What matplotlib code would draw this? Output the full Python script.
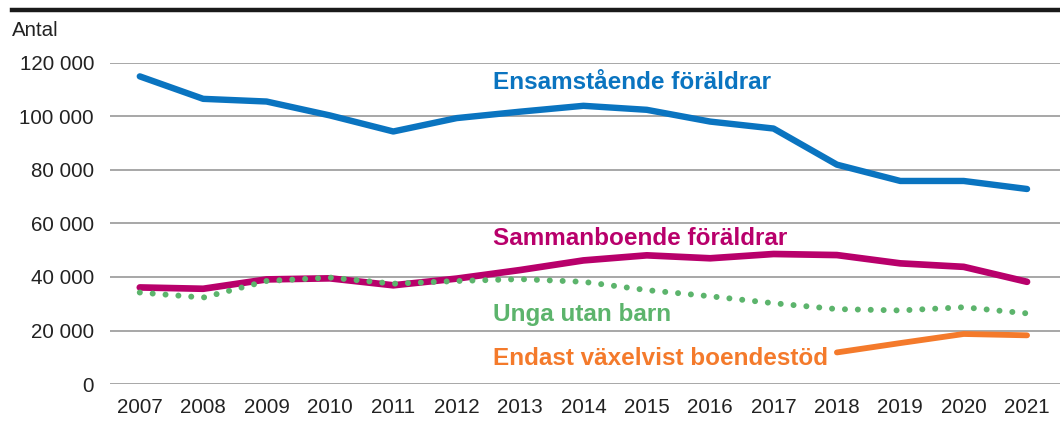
import matplotlib
matplotlib.use("Agg")
import matplotlib.pyplot as plt
from matplotlib.lines import Line2D

plt.rcParams['font.family'] = ['Liberation Sans', 'DejaVu Sans']

years = list(range(2007, 2022))
ensamstaende = [115000, 106600, 105600, 100400, 94400, 99400, 101800, 104000, 102500,
                98100, 95500, 82000, 75900, 75900, 72900]
sammanboende = [36100, 35600, 39100, 39500, 36900, 39400, 42600, 46200, 48100,
                47000, 48600, 48200, 45100, 43800, 38200]
unga = [34200, 32300, 38500, 39800, 37500, 38500, 39200, 38200, 35100,
        32800, 30200, 28000, 27500, 28700, 26400]
vaxel_years = [2018, 2019, 2020, 2021]
vaxelvist = [11800, 15300, 18700, 18200]

yticks = [0, 20000, 40000, 60000, 80000, 100000, 120000]
ytick_labels = ['0', '20 000', '40 000', '60 000', '80 000', '100 000', '120 000']

c_blue = '#0a74c0'
c_mag = '#b8006b'
c_green = '#5cb46c'
c_orange = '#f47a2b'

fig = plt.figure(figsize=(10.6, 4.21), dpi=100)
ax = fig.add_axes([110/1060, 37/421, 950/1060, 321/421])

for y in yticks:
    ax.axhline(y, color='#a0a0a0', lw=1.3, zorder=1)

ax.plot(years, ensamstaende, color=c_blue, lw=4.6, solid_capstyle='round',
        solid_joinstyle='round', clip_on=False, zorder=3)
ax.plot(years, unga, color=c_green, lw=4.3, linestyle=(0, (0.01, 2.15)),
        dash_capstyle='round', clip_on=False, zorder=4)
ax.plot(years, sammanboende, color=c_mag, lw=4.8, solid_capstyle='round',
        solid_joinstyle='round', clip_on=False, zorder=3)
ax.plot(vaxel_years, vaxelvist, color=c_orange, lw=4.2, solid_capstyle='round',
        solid_joinstyle='round', clip_on=False, zorder=3)

ax.set_xlim(2006.53, 2021.52)
ax.set_ylim(0, 120000)
ax.set_yticks(yticks)
ax.set_yticklabels(ytick_labels)
ax.set_xticks(years)
ax.set_xticklabels([str(y) for y in years])
ax.tick_params(length=0, colors='#222222', labelsize=14.8)
ax.tick_params(axis='y', pad=11.5)
ax.tick_params(axis='x', pad=10)
for s in ax.spines.values():
    s.set_visible(False)

lab = dict(fontsize=17.5, fontweight='bold', va='baseline', ha='left')
ax.text(2012.57, 110200, 'Ensamstående föräldrar', color=c_blue, **lab)
ax.text(2012.57, 52000, 'Sammanboende föräldrar', color=c_mag, **lab)
ax.text(2012.57, 23700, 'Unga utan barn', color=c_green, **lab)
ax.text(2012.57, 7200, 'Endast växelvist boendestöd', color=c_orange, **lab)

fig.text(12/1060, 1 - 31/421, 'Antal', fontsize=14.8, color='#222222', va='center')
fig.add_artist(Line2D([12/1060, 1], [1 - 10/421, 1 - 10/421], color='#1a1a1a', lw=3.2))

fig.savefig('out.png', dpi=100)
